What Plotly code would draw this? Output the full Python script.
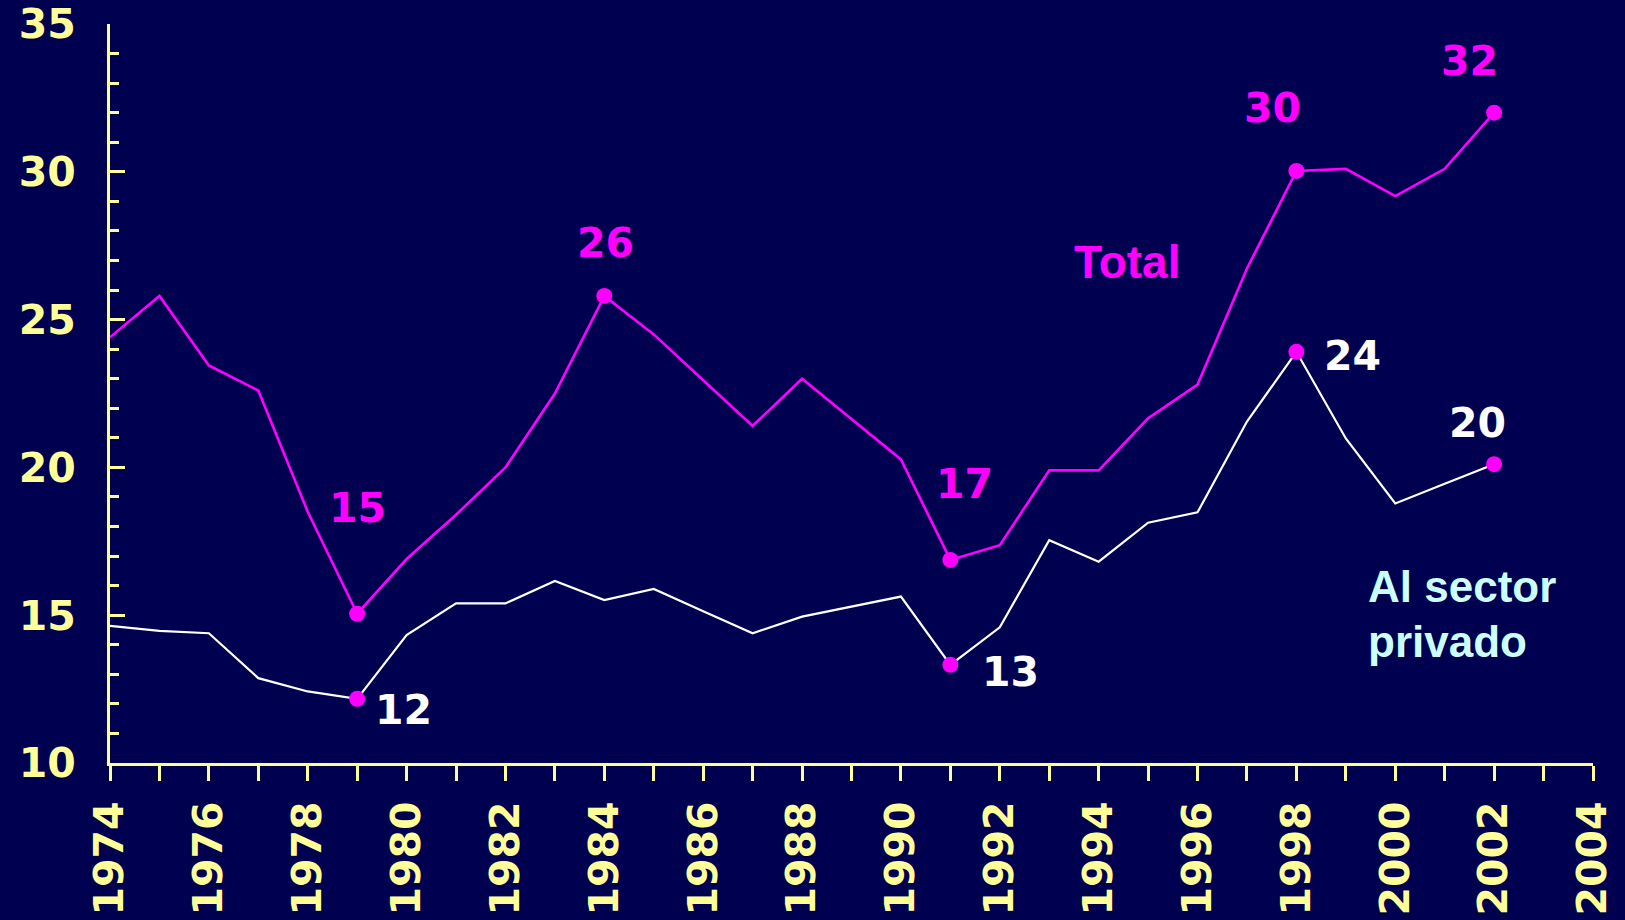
import plotly.graph_objects as go

years = list(range(1974, 2003))
total = [24.4, 25.8, 23.45, 22.6, 18.5, 15.05, 16.9, 18.4, 20.0, 22.5, 25.8, 24.5,
         22.95, 21.4, 23.0, 21.63, 20.27, 16.87, 17.37, 19.9, 19.9, 21.66, 22.8,
         26.73, 30.03, 30.1, 29.18, 30.1, 32.0]
privado = [14.64, 14.47, 14.39, 12.87, 12.42, 12.17, 14.33, 15.4, 15.4, 16.16, 15.51,
           15.89, 15.13, 14.39, 14.95, 15.3, 15.63, 13.32, 14.59, 17.54, 16.81, 18.13,
           18.48, 21.55, 23.91, 20.98, 18.78, 19.45, 20.11]
total_mark_years = [1979, 1984, 1991, 1998, 2002]
priv_mark_years = [1979, 1991, 1998, 2002]
x_tick_vals = list(range(1974, 2005, 2))
y_tick_vals = [10, 15, 20, 25, 30, 35]

BG = "#000050"
YEL = "#FFFF99"
MAG = "#FF00FF"
TXT_FONT = "Liberation Sans, Arial, sans-serif"
NUM_FONT = "DejaVu Sans, Verdana, sans-serif"

fig = go.Figure()
fig.add_trace(go.Scatter(x=years, y=privado, mode="lines",
                         line=dict(color="white", width=2.2), hoverinfo="skip"))
fig.add_trace(go.Scatter(x=years, y=total, mode="lines",
                         line=dict(color=MAG, width=2.6), hoverinfo="skip"))
fig.add_trace(go.Scatter(x=priv_mark_years,
                         y=[privado[years.index(y)] for y in priv_mark_years],
                         mode="markers", marker=dict(color=MAG, size=16), hoverinfo="skip"))
fig.add_trace(go.Scatter(x=total_mark_years,
                         y=[total[years.index(y)] for y in total_mark_years],
                         mode="markers", marker=dict(color=MAG, size=16), hoverinfo="skip"))

def ann(text, x, y, color, size=41, family=NUM_FONT, xanchor="center"):
    fig.add_annotation(x=x, y=y, text=text, showarrow=False, xanchor=xanchor, yanchor="middle",
                       font=dict(family=family, size=size, color=color, weight="bold"))

ann("15", 1979.0, 18.63, MAG)
ann("26", 1984.03, 27.59, MAG)
ann("17", 1991.28, 19.44, MAG)
ann("30", 1997.51, 32.16, MAG)
ann("32", 2001.51, 33.75, MAG)
ann("Total", 1994.57, 26.95, MAG, size=46, family=TXT_FONT)
ann("12", 1979.93, 11.79, "white")
ann("13", 1992.21, 13.08, "white")
ann("24", 1999.13, 23.77, "white")
ann("20", 2001.66, 21.5, "white")
ann("Al sector", 1999.41, 15.97, "#CCFFFF", size=44, family=TXT_FONT, xanchor="left")
ann("privado", 1999.41, 14.11, "#CCFFFF", size=44, family=TXT_FONT, xanchor="left")

fig.update_layout(
    width=1625, height=920,
    paper_bgcolor=BG, plot_bgcolor=BG,
    margin=dict(l=110, r=32, t=24, b=157, autoexpand=False),
    showlegend=False,
    xaxis=dict(range=[1974, 2004], tickvals=x_tick_vals, ticktext=[str(v) for v in x_tick_vals],
               tickangle=-90, showgrid=False, zeroline=False, automargin=False,
               showline=True, linecolor=YEL, linewidth=3,
               ticks="outside", ticklen=15, tickwidth=3, tickcolor=YEL,
               minor=dict(dtick=1, tick0=1974, ticks="outside", ticklen=15, tickwidth=3, tickcolor=YEL),
               tickfont=dict(family=NUM_FONT, size=41, color=YEL, weight="bold"),
               ticklabelstandoff=4, ticklabeloverflow="allow"),
    yaxis=dict(range=[10, 35], tickvals=y_tick_vals, showgrid=False, zeroline=False, automargin=False,
               showline=True, linecolor=YEL, linewidth=3,
               ticks="inside", ticklen=15, tickwidth=3, tickcolor=YEL,
               minor=dict(dtick=1, tick0=10, ticks="inside", ticklen=9, tickwidth=3, tickcolor=YEL),
               tickfont=dict(family=NUM_FONT, size=41, color=YEL, weight="bold"),
               ticklabelstandoff=23, ticklabeloverflow="allow"),
)

fig.write_html("out.html", config={"displayModeBar": False},
               post_script="document.body.style.margin='0px';document.body.style.background='#000050';")
